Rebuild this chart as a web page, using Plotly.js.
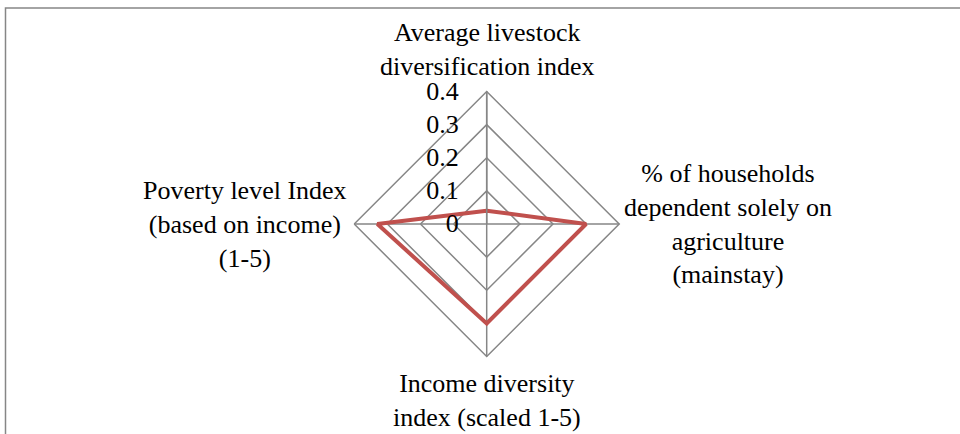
<!DOCTYPE html>
<html><head><meta charset="utf-8">
<script src="https://cdn.plot.ly/plotly-3.0.1.min.js"></script>
<style>html,body{margin:0;padding:0;background:#fff}#chart{width:960px;height:434px}</style>
</head><body><div id="chart"></div>
<script>
const categories = [
  "Average livestock<br>diversification index",
  "% of households<br>dependent solely on<br>agriculture<br>(mainstay)",
  "Income diversity<br>index (scaled 1-5)",
  "Poverty level Index<br>(based on income)<br>(1-5)"
];
const values = [0.04, 0.30, 0.30, 0.33];
const radialTicks = [0, 0.1, 0.2, 0.3, 0.4];
const radialTickText = ["0", "0.1", "0.2", "0.3", "0.4"];

const W = 960, H = 434;
const cx = 486.7, cy = 224, R = 132.5;   // polar centre/radius in pixels
const font = {family: "Liberation Serif", size: 26, color: "#000"};
const grey = "#868686";

const trace = {
  type: "scatterpolar",
  r: values.concat([values[0]]),
  theta: categories.concat([categories[0]]),
  mode: "lines",
  line: {color: "#C0504D", width: 4},
  hoverinfo: "skip"
};

// category labels, centred like the original
const px = x => x / W, py = y => 1 - y / H;
const labelPos = [
  {x: px(cx), y: py(cy - R - 8), xanchor: "center", yanchor: "bottom"},
  {x: px(cx + R + 3), y: py(cy), xanchor: "left", yanchor: "middle"},
  {x: px(cx), y: py(cy + R + 10), xanchor: "center", yanchor: "top"},
  {x: px(cx - R - 5), y: py(cy), xanchor: "right", yanchor: "middle"}
];
const annotations = categories.map((c, i) => Object.assign({
  text: c, xref: "paper", yref: "paper", showarrow: false, align: "center",
  font: font
}, labelPos[i]));

const layout = {
  width: W, height: H,
  margin: {l: 0, r: 0, t: 0, b: 0},
  paper_bgcolor: "#fff",
  showlegend: false,
  font: font,
  polar: {
    domain: {x: [px(cx - R), px(cx + R)], y: [py(cy + R), py(cy - R)]},
    bgcolor: "rgba(0,0,0,0)",
    gridshape: "linear",
    radialaxis: {
      range: [0, 0.4], tickvals: radialTicks, ticktext: radialTickText,
      angle: 90, side: "counterclockwise", tickangle: 90,
      showline: true, linecolor: grey, linewidth: 1.5,
      gridcolor: grey, gridwidth: 1.5,
      ticks: "outside", ticklen: 18, tickcolor: "rgba(0,0,0,0)",
      tickfont: font
    },
    angularaxis: {
      direction: "clockwise", rotation: 90,
      showline: true, linecolor: grey, linewidth: 1.5,
      gridcolor: grey, gridwidth: 1.5,
      ticks: "", showticklabels: false
    }
  },
  annotations: annotations,
  shapes: [{
    type: "rect", xref: "paper", yref: "paper",
    x0: px(5.5), x1: 1.01, y0: -0.05, y1: py(8),
    line: {color: grey, width: 1.5}, fillcolor: "rgba(0,0,0,0)", layer: "below"
  }]
};
Plotly.newPlot("chart", [trace], layout, {staticPlot: true});
</script></body></html>
